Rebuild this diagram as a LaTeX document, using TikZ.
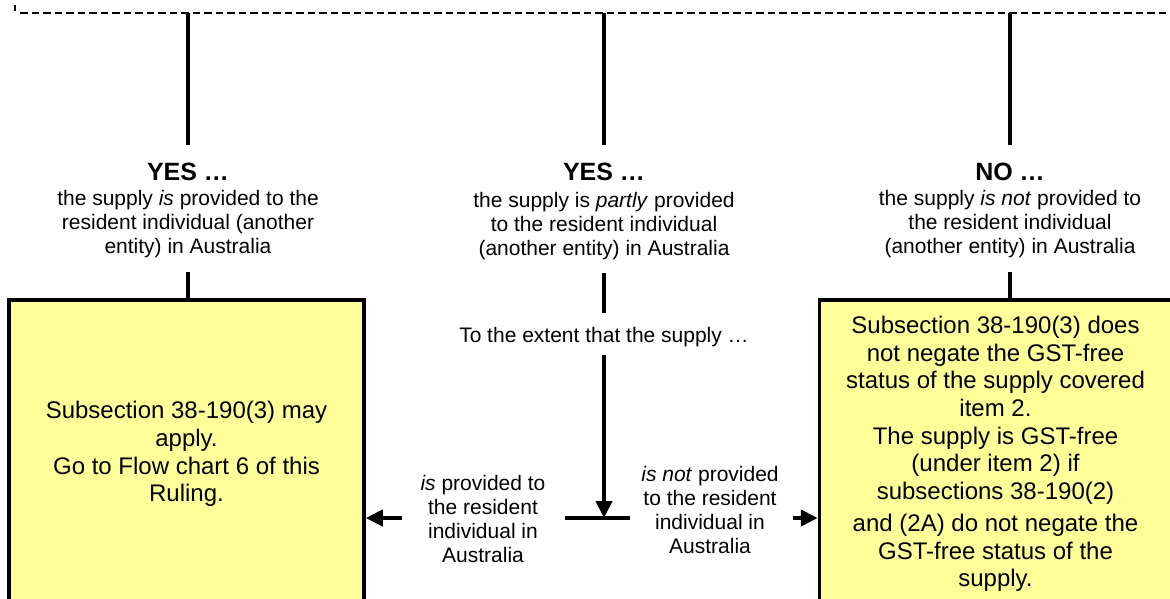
\documentclass[tikz,border=0pt]{standalone}
\usepackage{fontspec}
\setmainfont{Liberation Sans}
\usetikzlibrary{calc,arrows.meta}
\definecolor{chartyellow}{HTML}{FFFF99}
\tikzset{
	answer/.style={font=\fontsize{25}{28}\selectfont\bfseries, inner sep=0pt},
	reason/.style={font=\fontsize{21}{24}\selectfont, align=center, inner sep=0pt},
	outcome/.style={draw, line width=3.5pt, fill=chartyellow, align=center, inner sep=0pt, minimum height=308pt, font=\fontsize{24}{27.6}\selectfont},
	trunk/.style={line width=4pt},
	pointer/.style={line width=4pt, -{Triangle[length=17pt, width=16pt]}}
}

\begin{document}
\begin{tikzpicture}[x=1pt, y=-1pt]
		%%%%% START %%%%%
		\useasboundingbox (0,0) rectangle (1170,599);
		\clip (0,0) rectangle (1170,599);
		
		\draw[line width=1.5pt] (15,5) -- (15,11);
		\draw[line width=2.5pt, dash pattern=on 7.5pt off 4pt] (20,13) -- (1170,13);
		\coordinate (topL) at (188,13);
		\coordinate (topM) at (604,13);
		\coordinate (topR) at (1010,13);
		
		\node[answer] (yesL) at (188,172) {YES …};
		\node[answer] (yesM) at (604,172) {YES …};
		\node[answer] (noR) at (1010,172) {NO …};
		\draw[trunk, shorten >=18pt] (topL) -- (yesL);
		\draw[trunk, shorten >=18pt] (topM) -- (yesM);
		\draw[trunk, shorten >=18pt] (topR) -- (noR);
		
		\node[reason] (whyL) at (188,224) {the supply \textit{is} provided to the\\resident individual (another\\entity) in Australia};
		\node[reason] (whyM) at (604,226) {the supply is \textit{partly} provided\\to the resident individual\\(another entity) in Australia};
		\node[reason] (whyR) at (1010,224) {the supply \textit{is not} provided to\\the resident individual\\(another entity) in Australia};
		
		\node[outcome, minimum width=355pt] (boxL) at (186.5,454) {Subsection 38-190(3) may\\apply.\\Go to Flow chart 6 of this\\Ruling.};
		\node[outcome, minimum width=352pt] (boxR) at (995.5,454) {Subsection 38-190(3) does\\not negate the GST-free\\status of the supply covered\\item 2.\\The supply is GST-free\\(under item 2) if\\subsections 38-190(2)\\[4.5pt]and (2A) do not negate the\\GST-free status of the\\supply.};
		\draw[trunk, shorten <=14pt] (whyL.south) -- (whyL.south |- boxL.north);
		\draw[trunk, shorten <=14pt] (whyR.south) -- (whyR.south |- boxR.north);
		
		% the partly branch
		\node[reason] (extent) at (604,337) {To the extent that the supply …};
		\draw[trunk, shorten <=13pt, shorten >=14pt] (whyM) -- (extent);
		\coordinate (fork) at (604,518);
		\draw[pointer, shorten <=8pt] (extent) -- (fork);
		\draw[trunk] ($(fork)+(-39,0)$) -- ($(fork)+(26,0)$);
		
		\node[reason] (partIs) at (483,519) {\textit{is} provided to\\the resident\\individual in\\Australia};
		\node[reason] (partNot) at (710,510) {\textit{is not} provided\\to the resident\\individual in\\Australia};
		\draw[pointer] ($(fork -| partIs.west)+(-18,0)$) -- (fork -| boxL.east);
		\draw[pointer] ($(fork -| partNot.east)+(14,0)$) -- (fork -| boxR.west);
		%%%%% END %%%%%
\end{tikzpicture}
\end{document}
